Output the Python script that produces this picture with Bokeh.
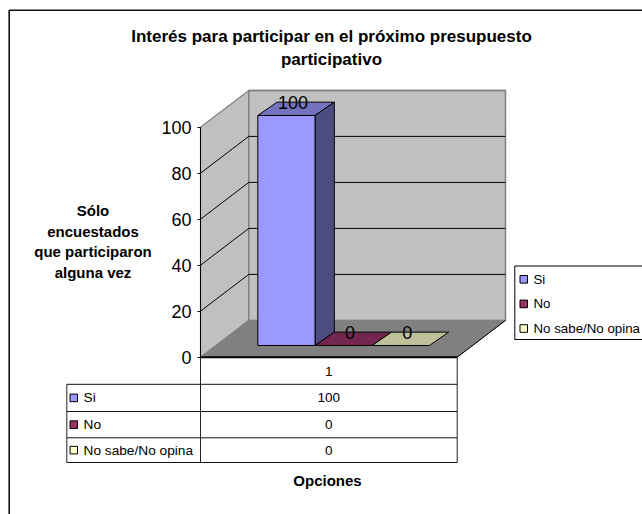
from bokeh.plotting import figure
from bokeh.models import Range1d, LinearAxis, FixedTicker
from bokeh.core.properties import value
from bokeh.embed import file_html
from bokeh.resources import INLINE

title_lines = ["Interés para participar en el próximo presupuesto", "participativo"]
ytitle_lines = ["Sólo", "encuestados", "que participaron", "alguna vez"]
xtitle = "Opciones"
categories = ["1"]
series = ["Si", "No", "No sabe/No opina"]
values = [100, 0, 0]
y_ticks = [0, 20, 40, 60, 80, 100]
colors = ["#9999FF", "#993366", "#FFFFCC"]
tops = ["#7373BF", "#732650", "#BFBF99"]
sides = ["#4C4C80", "#4D1A33", "#808066"]

W, H = 642, 514
Y0, PX = 356.7, 2.3


def py(page_y):
    return (Y0 - page_y) / PX


p = figure(width=W, height=H, output_backend="svg", toolbar_location=None,
           x_axis_type=None, y_axis_type=None,
           x_range=Range1d(0, W), y_range=Range1d(py(H), py(0)),
           min_border=0, outline_line_color=None)
p.xgrid.visible = False
p.ygrid.visible = False
p.background_fill_color = "white"

FONT = value("Liberation Sans")


def txt(x, page_y, s, size, bold=False, align="center"):
    p.text([x], [py(page_y)], text=[s], text_font=FONT, text_font_size=f"{size}px",
           text_font_style="bold" if bold else "normal", text_color="black",
           text_align=align, text_baseline="middle")


# outer frame
p.line([8.7, 8.7, 700], [py(600), py(9.7), py(9.7)], line_color="#111111", line_width=1.6)

# 3D box
X0, X1 = 200, 456.7
DX = 48.3
DV = 16.0
vmax = max(y_ticks)
wall = "#C0C0C0"
edge = "#808080"
p.patch([X0, X0 + DX, X0 + DX, X0], [0, DV, vmax + DV, vmax], fill_color=wall, line_color=edge, line_width=1.2)
p.patch([X0 + DX, X1 + DX, X1 + DX, X0 + DX], [DV, DV, vmax + DV, vmax + DV], fill_color=wall, line_color=edge, line_width=1.5)
p.patch([X0, X1, X1 + DX, X0 + DX], [0, 0, DV, DV], fill_color=edge, line_color=edge, line_width=1)
for t in y_ticks[1:-1]:
    p.line([X0, X0 + DX, X1 + DX], [t, t + DV, t + DV], line_color="black", line_width=1)
p.line([X0 + DX, X1 + DX], [vmax + DV, vmax + DV], line_color=edge, line_width=1.5)
p.line([X1, X1 + DX], [0, DV], line_color="black", line_width=1)
p.line([X0, X1], [0, 0], line_color="black", line_width=2)

# bars
BW = 57.2
BL = 257.3
BASE = 5.09
BDX = 19.3
BDV = 5.8
for i, v in enumerate(values):
    l, r = BL + i * BW, BL + (i + 1) * BW
    b, t = BASE, BASE + v
    p.patch([l, r, r + BDX, l + BDX], [t, t, t + BDV, t + BDV], fill_color=tops[i], line_color="black", line_width=1)
    if v > 0:
        p.patch([r, r + BDX, r + BDX, r], [b, b + BDV, t + BDV, t], fill_color=sides[i], line_color="black", line_width=1)
        p.patch([l, r, r, l], [b, b, t, t], fill_color=colors[i], line_color="black", line_width=1)
for i, v in enumerate(values):
    lx = BL + i * BW + BW / 2 + 6.5
    p.text([lx], [v + BASE + BDV], text=[str(v)], text_font=FONT, text_font_size="18px",
           text_color="black", text_align="center", text_baseline="middle")

# data table
TL = 66.3
rows = [383.8, 411, 437.3, 462]
p.line([X0, X0], [py(rows[-1]), 0], line_color="#222222", line_width=1)
p.line([X1, X1], [py(rows[-1]), 0], line_color="#222222", line_width=1)
p.line([TL, TL], [py(rows[0]), py(rows[-1])], line_color="#222222", line_width=1)
for ry in rows:
    p.line([TL, X1], [py(ry), py(ry)], line_color="#111111", line_width=1)
cx = (X0 + X1) / 2
txt(cx, 370.5, categories[0], 13.5)
for i, s in enumerate(series):
    cy = (rows[i] + rows[i + 1]) / 2
    txt(83, cy, s, 13.7, align="left")
    txt(cx, cy, str(values[i]), 13.5)
    p.quad(left=[69.5], right=[77], top=[py(cy - 3.8)], bottom=[py(cy + 3.8)],
           fill_color=colors[i], line_color="black", line_width=1)

# legend
LL = 514.3
p.line([700, LL, LL, 700], [py(265.5), py(265.5), py(339), py(339)], line_color="black", line_width=1)
for i, s in enumerate(series):
    cy = 278.8 + i * 24.6
    p.quad(left=[519.5], right=[527], top=[py(cy - 3.8)], bottom=[py(cy + 3.8)],
           fill_color=colors[i], line_color="black", line_width=1)
    txt(533, cy, s, 13.3, align="left")

# titles
for s, y in zip(title_lines, [36, 58.5]):
    txt(331, y, s, 17, bold=True)
for s, y in zip(ytitle_lines, [210, 231, 251, 272]):
    txt(92.5, y, s, 15, bold=True)
txt(327, 479.5, xtitle, 15, bold=True)

# value axis
ax = LinearAxis(fixed_location=X0, ticker=FixedTicker(ticks=y_ticks), bounds=(0, vmax))
ax.major_label_text_font = "Liberation Sans"
ax.major_label_text_font_size = "18px"
ax.major_label_text_color = "black"
ax.axis_line_color = "black"
ax.major_tick_line_color = "black"
ax.major_tick_out = 3
ax.major_tick_in = 0
ax.minor_tick_line_color = None
ax.major_label_standoff = 6
p.add_layout(ax, "left")

open("out.html", "w").write(file_html(p, INLINE))
